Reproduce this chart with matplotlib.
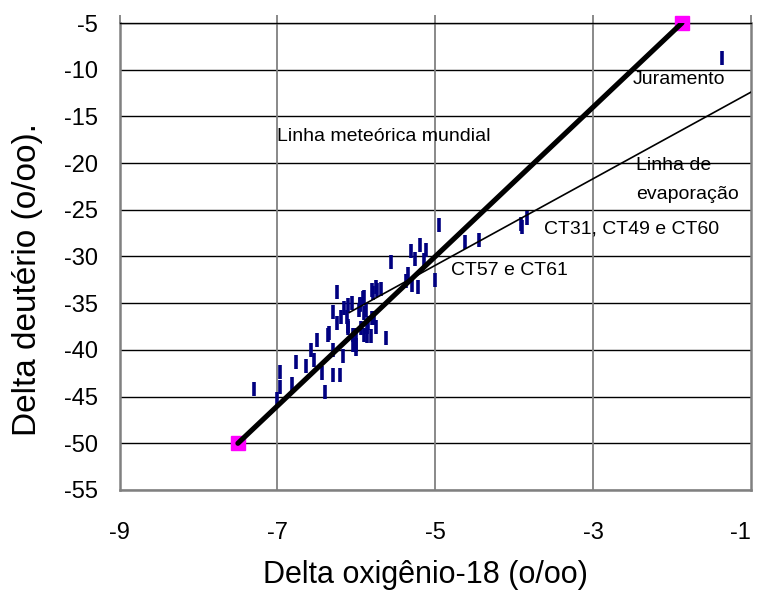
import matplotlib
matplotlib.use("Agg")
import matplotlib.pyplot as plt

plt.rcParams['font.family'] = ['Liberation Sans', 'DejaVu Sans']

# Sample points: delta O-18 and delta D (o/oo)
d18o = [-7.29, -6.97, -6.97, -7.00, -6.82, -6.77, -6.64, -6.57, -6.54, -6.50,
        -6.43, -6.40, -6.36, -6.34, -6.30, -6.29, -6.21, -6.29, -6.24, -6.25,
        -6.19, -6.17,
        -6.15, -6.12, -6.11, -6.10, -6.06, -6.00, -6.04, -6.00, -5.95, -5.92,
        -5.88, -5.90, -5.87, -5.80, -5.75, -5.80, -5.81, -5.75,
        -6.04, -6.00, -5.96, -5.94, -5.90, -5.87, -5.85, -5.77,
        -5.56, -5.31, -5.26, -5.19, -5.12, -5.14, -5.35, -5.37, -5.30, -5.22,
        -5.00, -5.79, -5.74, -5.69, -5.90, -5.95, -6.10, -5.62,
        -4.95, -4.62, -4.44, -3.92, -3.90, -3.84, -1.37]
dD = [-44.2, -42.4, -44.0, -45.3, -43.7, -41.3, -41.7, -40.0, -41.1, -38.9,
      -42.5, -44.5, -38.4, -38.2, -40.0, -42.7, -42.7, -35.9, -33.8, -37.1,
      -36.5, -40.7,
      -35.5, -36.5, -37.4, -37.7, -35.0, -38.4, -39.5, -39.9, -35.2, -34.4,
      -35.7, -38.4, -37.5, -33.6, -33.3, -36.6, -38.5, -37.5,
      -38.4, -39.5, -35.7, -37.7, -36.0, -38.5, -37.1, -36.6,
      -30.6, -29.4, -30.3, -28.8, -29.3, -30.4, -31.9, -32.6, -33.1, -33.3,
      -32.5, -33.9, -33.6, -33.5, -34.3, -35.1, -35.2, -38.7,
      -26.6, -28.4, -28.2, -26.5, -26.8, -25.9, -8.8]

# Global meteoric water line end points
gmwl_x = [-7.5, -1.875]
gmwl_y = [-50.0, -5.0]

# Evaporation line end points
evap_x = [-6.09, -1.0]
evap_y = [-36.0, -12.4]

xticks = [-9, -7, -5, -3, -1]
yticks = [-55, -50, -45, -40, -35, -30, -25, -20, -15, -10, -5]

labels = [("Linha meteórica mundial", -7.0, -17.2),
          ("Juramento", -2.50, -11.0),
          ("Linha de", -2.46, -20.3),
          ("evaporação", -2.46, -23.4),
          ("CT31, CT49 e CT60", -3.62, -27.1),
          ("CT57 e CT61", -4.80, -31.45)]

fig = plt.figure(figsize=(7.59, 5.96), dpi=100)
ax = fig.add_axes([119.5/759, 106/596, 631.5/759, 467/596])
ax.set_xlim(-9, -1)
ax.set_ylim(-55, -5)

for y in yticks:
    ax.axhline(y, color='black', lw=1.0, zorder=1)
for x in xticks[1:-1]:
    ax.axvline(x, color='#808080', lw=1.3, zorder=1)

ax.plot(d18o, dD, linestyle='none', marker='|', markersize=10.5, mew=2.6,
        color='#000080', zorder=3)
ax.plot(evap_x, evap_y, color='black', lw=1.2, zorder=4)
ax.plot(gmwl_x, gmwl_y, color='black', lw=3.7, zorder=5,
        solid_capstyle='round')
ax.plot(gmwl_x, gmwl_y, linestyle='none', marker='s', markersize=10,
        color='#FF00FF', zorder=4, clip_on=False)

for txt, x, y in labels:
    ax.text(x, y, txt, fontsize=14, ha='left', va='center', color='black',
            zorder=6)

for side in ['left', 'bottom', 'right']:
    ax.spines[side].set_color('#808080')
    ax.spines[side].set_linewidth(1.8)
ax.spines['top'].set_color('black')
ax.spines['top'].set_linewidth(1.0)

ax.set_xticks(xticks)
ax.set_xticklabels([str(v) for v in xticks])
ax.set_yticks(yticks)
ax.set_yticklabels([str(v) for v in yticks])
ax.tick_params(axis='x', bottom=False, top=True, labelbottom=True,
               labeltop=False, direction='out', length=6, width=1.3,
               color='#808080', labelsize=17, pad=17)
ax.tick_params(axis='y', left=False, labelsize=17, pad=12)
ax.get_xticklabels()[-1].set_horizontalalignment('right')

fig.text(425/759, 1-575/596, "Delta oxigênio-18 (o/oo)", fontsize=22,
         ha='center', va='center')
fig.text(28/759, 1-280/596, "Delta deutério (o/oo).", fontsize=24,
         ha='center', va='center', rotation=90)

fig.savefig('out.png', dpi=100)
